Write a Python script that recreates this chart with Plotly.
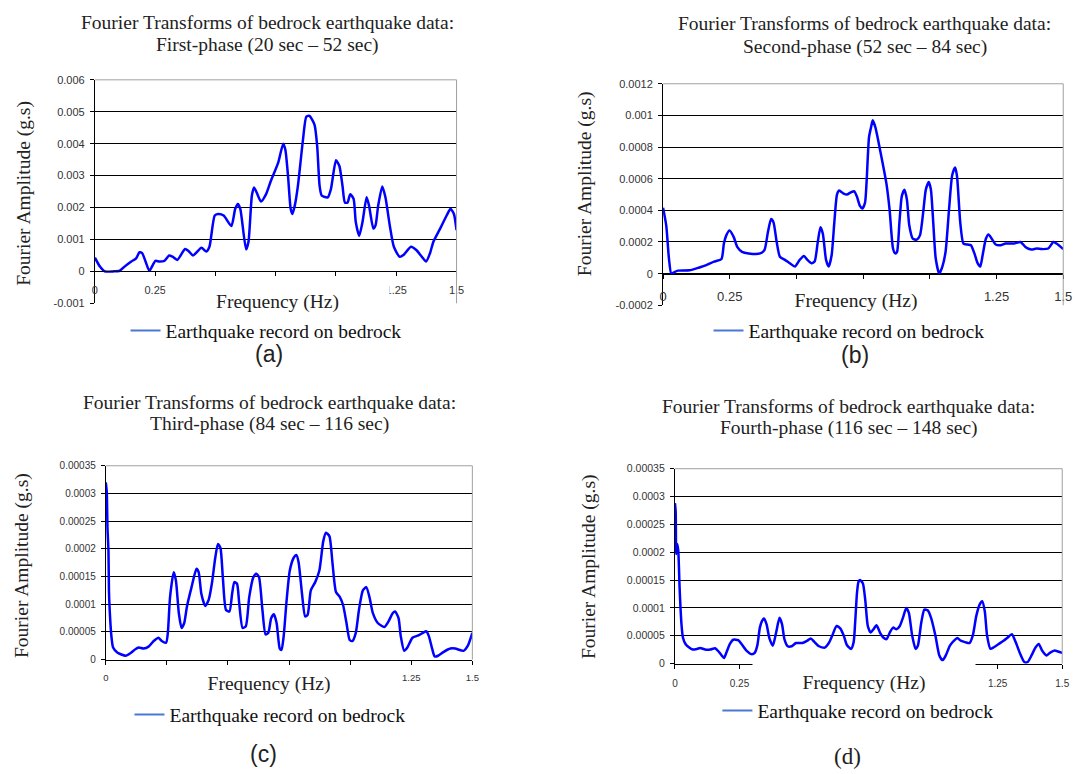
import plotly.graph_objects as go

W, H = 1091, 774

# ---------------- data ----------------
freq_a = [0.000, 0.021, 0.041, 0.075, 0.103, 0.123, 0.151, 0.171, 0.185, 0.196,
          0.210, 0.226, 0.251, 0.267, 0.288, 0.308, 0.322, 0.342, 0.374, 0.388,
          0.407, 0.442, 0.462, 0.475, 0.497, 0.511, 0.534, 0.566, 0.582, 0.593,
          0.603, 0.627, 0.637, 0.651, 0.660, 0.671, 0.689, 0.710, 0.730, 0.760,
          0.781, 0.790, 0.801, 0.812, 0.819, 0.829, 0.842, 0.863, 0.877, 0.890,
          0.911, 0.922, 0.932, 0.941, 0.966, 0.979, 1.000, 1.014, 1.027, 1.037,
          1.048, 1.059, 1.073, 1.082, 1.096, 1.110, 1.127, 1.137, 1.155, 1.164,
          1.175, 1.192, 1.205, 1.223, 1.240, 1.264, 1.281, 1.311, 1.333, 1.356,
          1.374, 1.390, 1.404, 1.432, 1.459, 1.475, 1.489, 1.500]
amp_a = [0.00043, 0.00015, 0.0, 0.0, 0.00002, 0.00015, 0.00031, 0.00041, 0.0006, 0.00057,
         0.00031, 0.00002, 0.00033, 0.00031, 0.00033, 0.0005, 0.00046, 0.00036, 0.0007, 0.00064,
         0.0005, 0.00074, 0.00062, 0.00077, 0.00175, 0.0018, 0.00175, 0.00142, 0.00196, 0.00211,
         0.00196, 0.00069, 0.00093, 0.00237, 0.00263, 0.00247, 0.00219, 0.00242, 0.00284, 0.0034,
         0.004, 0.00381, 0.00299, 0.00196, 0.0018, 0.00206, 0.00268, 0.00412, 0.00485, 0.00487,
         0.00459, 0.00392, 0.00268, 0.00237, 0.00232, 0.00258, 0.00348, 0.0033, 0.00268, 0.00216,
         0.00216, 0.00242, 0.00227, 0.00155, 0.00111, 0.00155, 0.00232, 0.00206, 0.00134, 0.00144,
         0.00206, 0.00266, 0.00232, 0.00144, 0.00077, 0.00046, 0.00052, 0.00077, 0.00067, 0.00046,
         0.00031, 0.00057, 0.00093, 0.00134, 0.00175, 0.00196, 0.0018, 0.00129]

freq_b = [0.0, 0.012, 0.022, 0.031, 0.043, 0.056, 0.099, 0.136, 0.160, 0.191,
          0.219, 0.228, 0.237, 0.249, 0.265, 0.278, 0.296, 0.321, 0.364, 0.380,
          0.393, 0.405, 0.414, 0.426, 0.438, 0.457, 0.475, 0.494, 0.512, 0.528,
          0.541, 0.556, 0.568, 0.580, 0.590, 0.599, 0.611, 0.621, 0.632, 0.642,
          0.652, 0.660, 0.677, 0.689, 0.704, 0.716, 0.726, 0.738, 0.747, 0.757,
          0.763, 0.772, 0.780, 0.786, 0.796, 0.809, 0.821, 0.837, 0.849, 0.862,
          0.870, 0.877, 0.886, 0.895, 0.905, 0.914, 0.923, 0.936, 0.951, 0.963,
          0.975, 0.985, 0.996, 1.004, 1.012, 1.022, 1.035, 1.047, 1.059, 1.072,
          1.084, 1.095, 1.102, 1.114, 1.126, 1.142, 1.154, 1.167, 1.179, 1.189,
          1.198, 1.210, 1.220, 1.232, 1.247, 1.265, 1.284, 1.315, 1.340, 1.358,
          1.380, 1.401, 1.420, 1.444, 1.463, 1.475, 1.500]
amp_b = [0.000417, 0.000304, 0.000097, 0.0, 0.00001, 0.000019, 0.000021, 0.000039, 0.000052, 0.000076,
         0.000093, 0.00019, 0.000242, 0.000273, 0.000231, 0.000169, 0.000138, 0.000128, 0.000128, 0.000149,
         0.000262, 0.000345, 0.000324, 0.0002, 0.000107, 0.000087, 0.000066, 0.000045, 0.000087, 0.000112,
         0.000087, 0.000066, 0.000076, 0.0002, 0.000293, 0.000252, 0.000087, 0.000045, 0.000118, 0.000324,
         0.0005, 0.000525, 0.000506, 0.0005, 0.000514, 0.000521, 0.00049, 0.000428, 0.000411, 0.000448,
         0.000583, 0.000862, 0.000928, 0.000969, 0.000924, 0.00082, 0.000717, 0.000572, 0.000407, 0.000159,
         0.000128, 0.000138, 0.000324, 0.00049, 0.000531, 0.000469, 0.000304, 0.000221, 0.000215, 0.000242,
         0.000386, 0.000531, 0.000579, 0.000531, 0.000345, 0.000097, 0.0, 0.000045, 0.000138, 0.000407,
         0.000624, 0.000671, 0.000614, 0.000324, 0.00019, 0.000184, 0.00018, 0.000128, 0.000066, 0.000045,
         0.000118, 0.000221, 0.000248, 0.000221, 0.000184, 0.00018, 0.00019, 0.00019, 0.0002, 0.000169,
         0.000153, 0.000159, 0.000155, 0.000159, 0.0002, 0.00019, 0.000155]

freq_c = [0.0, 0.004, 0.007, 0.011, 0.013, 0.016, 0.023, 0.030, 0.047, 0.081,
          0.101, 0.121, 0.135, 0.155, 0.175, 0.196, 0.216, 0.229, 0.247, 0.254,
          0.263, 0.278, 0.287, 0.299, 0.310, 0.321, 0.332, 0.351, 0.371, 0.380,
          0.391, 0.407, 0.421, 0.434, 0.448, 0.459, 0.469, 0.479, 0.492, 0.506,
          0.517, 0.526, 0.537, 0.546, 0.560, 0.573, 0.587, 0.604, 0.616, 0.627,
          0.641, 0.654, 0.665, 0.677, 0.688, 0.699, 0.712, 0.719, 0.728, 0.739,
          0.753, 0.769, 0.780, 0.789, 0.803, 0.816, 0.826, 0.839, 0.857, 0.874,
          0.890, 0.901, 0.915, 0.928, 0.942, 0.958, 0.971, 0.985, 0.998, 1.009,
          1.023, 1.036, 1.052, 1.066, 1.079, 1.093, 1.113, 1.140, 1.157, 1.174,
          1.184, 1.198, 1.207, 1.221, 1.234, 1.255, 1.279, 1.298, 1.311, 1.322,
          1.336, 1.346, 1.360, 1.383, 1.410, 1.430, 1.464, 1.481, 1.500]
amp_c = [0.00032, 0.000303, 0.000238, 0.000196, 0.000125, 0.00009, 0.0000426, 0.0000219, 0.000013, 0.0000071,
         0.0000118, 0.0000189, 0.0000219, 0.0000201, 0.0000236, 0.0000337, 0.0000396, 0.0000337, 0.0000307, 0.0000485,
         0.000113, 0.000158, 0.000143, 0.0000839, 0.0000573, 0.0000662, 0.0000957, 0.000131, 0.000164, 0.000158,
         0.000119, 0.0000969, 0.000108, 0.000137, 0.000184, 0.000209, 0.000202, 0.000149, 0.0000898, 0.0000869,
         0.000119, 0.00014, 0.000137, 0.000102, 0.0000573, 0.0000603, 0.000113, 0.000149, 0.000155, 0.000149,
         0.0000898, 0.0000455, 0.0000485, 0.0000751, 0.0000821, 0.0000662, 0.0000201, 0.0000177, 0.0000426, 0.000102,
         0.000161, 0.000184, 0.000189, 0.000176, 0.000119, 0.000078, 0.000081, 0.000125, 0.00014, 0.000161,
         0.000214, 0.000229, 0.000223, 0.000173, 0.000122, 0.000113, 0.0000987, 0.0000662, 0.0000355, 0.0000337,
         0.0000485, 0.0000898, 0.000125, 0.000131, 0.000113, 0.0000839, 0.0000662, 0.0000591, 0.0000691, 0.0000839,
         0.0000869, 0.0000751, 0.0000426, 0.000016, 0.0000219, 0.0000396, 0.0000437, 0.0000485, 0.0000514, 0.0000426,
         0.0000189, 0.0000059, 0.0000071, 0.0000142, 0.0000201, 0.0000201, 0.000016, 0.0000248, 0.0000485]

freq_d = [0.0, 0.003, 0.005, 0.009, 0.013, 0.018, 0.022, 0.026, 0.031, 0.041,
          0.054, 0.069, 0.086, 0.098, 0.117, 0.137, 0.156, 0.169, 0.181, 0.190,
          0.200, 0.213, 0.226, 0.245, 0.258, 0.277, 0.296, 0.309, 0.319, 0.329,
          0.337, 0.345, 0.355, 0.366, 0.379, 0.392, 0.405, 0.415, 0.424, 0.437,
          0.452, 0.469, 0.494, 0.513, 0.526, 0.539, 0.558, 0.580, 0.596, 0.609,
          0.626, 0.641, 0.654, 0.666, 0.682, 0.692, 0.698, 0.705, 0.711, 0.717,
          0.728, 0.737, 0.747, 0.758, 0.769, 0.781, 0.794, 0.807, 0.820, 0.832,
          0.845, 0.858, 0.871, 0.883, 0.896, 0.906, 0.919, 0.932, 0.941, 0.954,
          0.966, 0.979, 0.992, 1.009, 1.024, 1.037, 1.049, 1.065, 1.081, 1.094,
          1.107, 1.126, 1.141, 1.154, 1.167, 1.180, 1.190, 1.200, 1.209, 1.222,
          1.235, 1.254, 1.273, 1.289, 1.305, 1.320, 1.337, 1.353, 1.366, 1.381,
          1.397, 1.409, 1.422, 1.439, 1.452, 1.471, 1.484, 1.500]
amp_d = [0.000288, 0.000273, 0.000197, 0.000215, 0.000203, 0.000138, 0.000097, 0.0000676, 0.000047, 0.0000353,
         0.0000294, 0.0000253, 0.0000265, 0.0000282, 0.0000253, 0.0000253, 0.0000276, 0.0000218, 0.0000147, 0.00001,
         0.0000206, 0.0000353, 0.0000429, 0.0000423, 0.0000353, 0.0000235, 0.0000171, 0.0000194, 0.0000323, 0.0000647,
         0.0000764, 0.0000811, 0.0000706, 0.0000453, 0.0000323, 0.0000559, 0.0000823, 0.0000706, 0.0000441, 0.0000312,
         0.0000312, 0.000037, 0.000037, 0.0000412, 0.0000453, 0.0000394, 0.0000312, 0.0000288, 0.000037, 0.00005,
         0.0000676, 0.0000629, 0.00005, 0.0000335, 0.0000265, 0.0000382, 0.0000735, 0.000126, 0.000147, 0.00015,
         0.000144, 0.000115, 0.0000676, 0.0000559, 0.0000617, 0.0000688, 0.0000559, 0.000047, 0.0000441, 0.0000559,
         0.0000647, 0.0000617, 0.0000676, 0.0000823, 0.0001, 0.0000911, 0.00005, 0.0000265, 0.0000323, 0.0000735,
         0.000097, 0.0000958, 0.0000823, 0.00005, 0.0000147, 0.0000059, 0.0000147, 0.0000323, 0.0000412, 0.0000459,
         0.0000412, 0.0000382, 0.000037, 0.0000512, 0.0000853, 0.000106, 0.000112, 0.0000941, 0.00005, 0.0000265,
         0.0000294, 0.0000353, 0.0000412, 0.000047, 0.0000529, 0.0000382, 0.0000176, 0.0000029, 0.0000029, 0.0000147,
         0.0000294, 0.0000353, 0.0000235, 0.0000147, 0.0000194, 0.0000235, 0.0000218, 0.0000194]

x_tickvals = [0, 0.25, 0.5, 0.75, 1.0, 1.25, 1.5]
# labels 0.5-1 (and 0.25 in c) are covered by the axis-title box in the original
x_ticktext_abd = ["0", "0.25", "", "", "", "1.25", "1.5"]
x_ticktext_c = ["0", "", "", "", "", "1.25", "1.5"]

y_tickvals_a = [-0.001, 0, 0.001, 0.002, 0.003, 0.004, 0.005, 0.006]
y_ticktext_a = ["-0.001", "0", "0.001", "0.002", "0.003", "0.004", "0.005", "0.006"]
y_tickvals_b = [-0.0002, 0, 0.0002, 0.0004, 0.0006, 0.0008, 0.001, 0.0012]
y_ticktext_b = ["-0.0002", "0", "0.0002", "0.0004", "0.0006", "0.0008", "0.001", "0.0012"]
y_tickvals_cd = [0, 0.00005, 0.0001, 0.00015, 0.0002, 0.00025, 0.0003, 0.00035]
y_ticktext_cd = ["0", "0.00005", "0.0001", "0.00015", "0.0002", "0.00025", "0.0003", "0.00035"]

title_line1 = "Fourier Transforms of bedrock earthquake data:"
phase_titles = ["First-phase (20 sec \u2013 52 sec)", "Second-phase (52 sec \u2013 84 sec)",
                "Third-phase (84 sec \u2013 116 sec)", "Fourth-phase (116 sec \u2013 148 sec)"]
panel_labels = ["(a)", "(b)", "(c)", "(d)"]
series_name = "Earthquake record on bedrock"
x_title = "Frequency (Hz)"
y_title = "Fourier Amplitude (g.s)"

# ---------------- layout (pixel geometry) ----------------
def px(x):
    return x / W

def py(y):
    return 1 - y / H

SERIF = "Liberation Serif"
SANS = "Liberation Sans"

panels = [
    dict(fx=freq_a, fy=amp_a, l=92, r=458, t=75, b=302, yr=[-0.001, 0.006],
         ytv=y_tickvals_a, ytt=y_ticktext_a, xtt=x_ticktext_abd, free=True, xfs=11, yfs=11,
         title=(267, 17, 40), ytitle=(20, 190), box=(165, 388, 280, 317), xt=(277, 300),
         leg=(123, 330), lab=(268, 353), labfont=SANS, xstand=4),
    dict(fx=freq_b, fy=amp_b, l=667, r=1072, t=79, b=304, yr=[-0.0002, 0.0012],
         ytv=y_tickvals_b, ytt=y_ticktext_b, xtt=x_ticktext_abd, free=True, xfs=13, yfs=11,
         title=(871, 18, 42), ytitle=(588, 180), box=(753, 975, 281, 317), xt=(862, 300),
         leg=(713, 330), lab=(861, 355), labfont=SANS, xstand=7),
    dict(fx=freq_c, fy=amp_c, l=103, r=474, t=467, b=664, yr=[0, 0.00035],
         ytv=y_tickvals_cd, ytt=y_ticktext_cd, xtt=x_ticktext_c, free=False, xfs=9.5, yfs=10,
         title=(269, 403, 425), ytitle=(18, 568), box=(158, 378, 671, 706), xt=(268, 688),
         leg=(127, 720), lab=(263, 760), labfont=SANS, xstand=5),
    dict(fx=freq_d, fy=amp_d, l=679, r=1071, t=470, b=668, yr=[0, 0.00035],
         ytv=y_tickvals_cd, ytt=y_ticktext_cd, xtt=x_ticktext_abd, free=False, xfs=10, yfs=10.5,
         title=(855, 407, 429), ytitle=(592, 569), box=(760, 982, 667, 709), xt=(870, 688),
         leg=(722, 716), lab=(854, 762), labfont=SERIF, xstand=6),
]

fig = go.Figure()
layout = dict(width=W, height=H, margin=dict(l=0, r=0, t=0, b=0), autosize=False,
              paper_bgcolor="white", plot_bgcolor="white", showlegend=True,
              annotations=[], shapes=[], hovermode=False)

for i, p in enumerate(panels, start=1):
    sfx = "" if i == 1 else str(i)
    xa, ya = "x" + sfx, "y" + sfx
    legname = "legend" + sfx

    fig.add_trace(go.Scatter(
        x=p["fx"], y=p["fy"], mode="lines", xaxis=xa, yaxis=ya, showlegend=False,
        line=dict(color="#0000ff", width=2.5, shape="spline", smoothing=0.6)))
    fig.add_trace(go.Scatter(
        x=[None], y=[None], mode="lines", xaxis=xa, yaxis=ya, name=series_name,
        legend=legname, showlegend=True, line=dict(color="#4a78d6", width=2)))

    ydom = [py(p["b"]), py(p["t"])]
    xdom = [px(p["l"]), px(p["r"])]
    r0, r1 = p["yr"]
    xaxis = dict(domain=xdom, range=[0, 1.5], showgrid=False, zeroline=False,
                 showline=True, linecolor="black", linewidth=1,
                 ticks="outside", ticklen=4, tickcolor="black", tickwidth=1,
                 tickmode="array", tickvals=x_tickvals, ticktext=p["xtt"],
                 tickfont=dict(family=SANS, size=p["xfs"], color="#333"),
                 ticklabelstandoff=p["xstand"])
    if p["free"]:
        zero_pos = ydom[0] + (0 - r0) / (r1 - r0) * (ydom[1] - ydom[0])
        xaxis.update(anchor="free", position=zero_pos)
    else:
        xaxis.update(anchor=ya)
    yaxis = dict(domain=ydom, range=p["yr"], anchor=xa, showgrid=True,
                 gridcolor="black", gridwidth=1, zeroline=False,
                 showline=True, linecolor="black", linewidth=1,
                 ticks="outside", ticklen=4, tickcolor="black", tickwidth=1,
                 tickmode="array", tickvals=p["ytv"], ticktext=p["ytt"],
                 tickfont=dict(family=SANS, size=p["yfs"], color="#333"),
                 ticklabelstandoff=3)
    layout["xaxis" + sfx] = xaxis
    layout["yaxis" + sfx] = yaxis

    # gray top/right frame of plot area
    layout["shapes"].append(dict(type="line", xref=xa + " domain", yref=ya + " domain",
                                 x0=0, x1=1, y0=1, y1=1, line=dict(color="#a0a0a0", width=1)))
    layout["shapes"].append(dict(type="line", xref=xa + " domain", yref=ya + " domain",
                                 x0=1, x1=1, y0=0, y1=1, line=dict(color="#a0a0a0", width=1)))

    # chart title (two lines)
    tx, ty1, ty2 = p["title"]
    for txt, ty in ((title_line1, ty1), (phase_titles[i - 1], ty2)):
        layout["annotations"].append(dict(
            text=txt, xref="paper", yref="paper", x=px(tx), y=py(ty),
            xanchor="center", yanchor="middle", showarrow=False,
            font=dict(family=SERIF, size=19.5, color="#222")))
    # y-axis title
    yx, yy = p["ytitle"]
    layout["annotations"].append(dict(
        text=y_title, xref="paper", yref="paper", x=px(yx), y=py(yy),
        xanchor="center", yanchor="middle", textangle=-90, showarrow=False,
        font=dict(family=SERIF, size=19.5, color="#222")))
    # x-axis title in white box
    bx0, bx1, by0, by1 = p["box"]
    layout["annotations"].append(dict(
        text=x_title, xref="paper", yref="paper", x=px((bx0 + bx1) / 2), y=py((by0 + by1) / 2),
        xanchor="center", yanchor="middle", showarrow=False,
        width=bx1 - bx0, height=by1 - by0, bgcolor="white", borderpad=0,
        xshift=p["xt"][0] - (bx0 + bx1) / 2, yshift=-(p["xt"][1] - (by0 + by1) / 2),
        font=dict(family=SERIF, size=19.5, color="#222")))
    # panel label
    lx, ly = p["lab"]
    layout["annotations"].append(dict(
        text=panel_labels[i - 1], xref="paper", yref="paper", x=px(lx), y=py(ly),
        xanchor="center", yanchor="middle", showarrow=False,
        font=dict(family=p["labfont"], size=23, color="#222")))
    # legend
    gx, gy = p["leg"]
    layout[legname] = dict(x=px(gx), y=py(gy), xanchor="left", yanchor="middle",
                           bgcolor="rgba(0,0,0,0)", borderwidth=0, orientation="h",
                           font=dict(family=SERIF, size=19.5, color="#111"))

fig.update_layout(**layout)
fig.write_html("out.html")
